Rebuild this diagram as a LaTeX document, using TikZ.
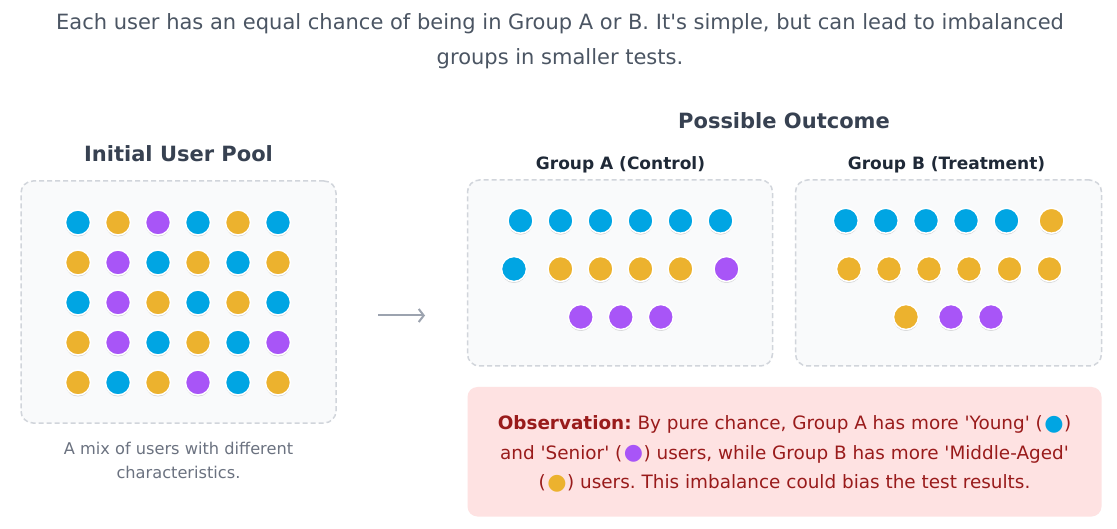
\documentclass[tikz,border=0pt]{standalone}
\usepackage{fontspec}
\setmainfont{DejaVu Sans}
\usepackage{graphicx}
\usetikzlibrary{shadows,arrows.meta}
\definecolor{cy}{HTML}{00A5E3}
\definecolor{ye}{HTML}{ECB22E}
\definecolor{pu}{HTML}{A855F7}
\definecolor{txtgray}{HTML}{4B5563}
\definecolor{headc}{HTML}{374151}
\definecolor{grouph}{HTML}{1F2937}
\definecolor{capc}{HTML}{6B7280}
\definecolor{borderc}{HTML}{D1D5DB}
\definecolor{boxfill}{HTML}{F9FAFB}
\definecolor{obsfill}{HTML}{FEE2E2}
\definecolor{obstext}{HTML}{991B1B}
\definecolor{arrowc}{HTML}{9CA3AF}
\frenchspacing
\newcommand\sq{\textquotesingle}
\newcommand\ud[1]{\kern1.5pt\textcolor{#1}{\raisebox{-0.02em}{\scalebox{1.2}{●}}}\kern0.5pt}
\begin{document}
\begin{tikzpicture}[x=1pt,y=-1pt,
  udot/.style={circle,inner sep=0pt,minimum size=25pt,draw=white,line width=1.5pt,
     drop shadow={shadow xshift=0pt,shadow yshift=-1.5pt,opacity=.15,fill=black}},
  poolbox/.style={draw=borderc,dash pattern=on 5pt off 3pt,line width=1.5pt,fill=boxfill,rounded corners=12pt,inner sep=0pt},
  obsbox/.style={fill=obsfill,rounded corners=10pt,inner sep=0pt},
  toptxt/.style={text=txtgray,font=\fontsize{21}{35}\selectfont,align=center,inner sep=0pt},
  headtxt/.style={text=headc,font=\fontsize{21}{25}\selectfont\bfseries,inner sep=0pt},
  ghead/.style={text=grouph,font=\fontsize{17}{20}\selectfont\bfseries,inner sep=0pt},
  captxt/.style={text=capc,font=\fontsize{16.2}{24}\selectfont,align=center,inner sep=0pt},
  obstxt/.style={text=obstext,font=\fontsize{18.4}{29.5}\selectfont,align=center,inner sep=0pt},
  arrowline/.style={draw=arrowc,line width=2pt,-{Straight Barb[length=5pt,width=13pt]}}
]
\useasboundingbox (0,0) rectangle (1117,529);
\fill[white] (0,0) rectangle (1117,529);

% top description
\node[toptxt] (desc) at (560,41) {Each user has an equal chance of being in Group A or B. It\sq s simple, but can lead to imbalanced\\groups in smaller tests.};

% left: initial pool
\node[headtxt] (poolhead) at (178.5,154) {Initial User Pool};
\node[poolbox,minimum width=315pt,minimum height=242pt] (pool) at (178.5,302) {};
\foreach \c [count=\i from 0] in {cy,ye,pu,cy,ye,cy, ye,pu,cy,ye,cy,ye, cy,pu,ye,cy,ye,cy, ye,pu,cy,ye,cy,pu, ye,cy,ye,pu,cy,ye}{
  \pgfmathtruncatemacro\col{mod(\i,6)}
  \pgfmathtruncatemacro\row{div(\i,6)}
  \node[udot,fill=\c] (L\i) at ({78+40*\col},{222.5+40*\row}) {};
}
\node[captxt] (poolcap) at (178.5,460) {A mix of users with different\\characteristics.};

% arrow
\coordinate (arrS) at (378,315.5);
\coordinate (arrE) at (425,315.5);
\draw[arrowline] (arrS) -- (arrE);

% right: outcome
\node[headtxt] (outhead) at (784,121) {Possible Outcome};
\node[ghead] (ahead) at (620.5,164.5) {Group A (Control)};
\node[ghead] (bhead) at (946.5,164.5) {Group B (Treatment)};
\node[poolbox,minimum width=305pt,minimum height=186pt] (boxA) at (620,273) {};
\node[poolbox,minimum width=306pt,minimum height=186pt] (boxB) at (948.5,273) {};

\foreach \x/\y/\c [count=\i] in {520.5/220.7/cy,560.5/220.7/cy,600.5/220.7/cy,640.5/220.7/cy,680.5/220.7/cy,720.5/220.7/cy,
  514/269/cy,560.5/269/ye,600.5/269/ye,640.5/269/ye,680.5/269/ye,726.5/269/pu,
  580.8/317/pu,620.8/317/pu,660.8/317/pu}{
  \node[udot,fill=\c] (A\i) at (\x,\y) {};
}
\foreach \x/\y/\c [count=\i] in {845.8/220.7/cy,885.8/220.7/cy,926/220.7/cy,966/220.7/cy,1006.5/220.7/cy,1051.5/220.7/ye,
  849/269/ye,889/269/ye,929/269/ye,969/269/ye,1009.5/269/ye,1049.5/269/ye,
  906/317/ye,951/317/pu,991/317/pu}{
  \node[udot,fill=\c] (B\i) at (\x,\y) {};
}

% observation
\node[obsbox,minimum width=634pt,minimum height=129.5pt] (obsbg) at (784.5,451.75) {};
\node[obstxt] (obs) at (784.5,454) {\textbf{Observation:} By pure chance, Group A has more \sq Young\sq{} (\ud{cy})\\and \sq Senior\sq{} (\ud{pu}) users, while Group B has more \sq Middle-Aged\sq\\(\ud{ye}) users. This imbalance could bias the test results.};
\end{tikzpicture}
\end{document}
